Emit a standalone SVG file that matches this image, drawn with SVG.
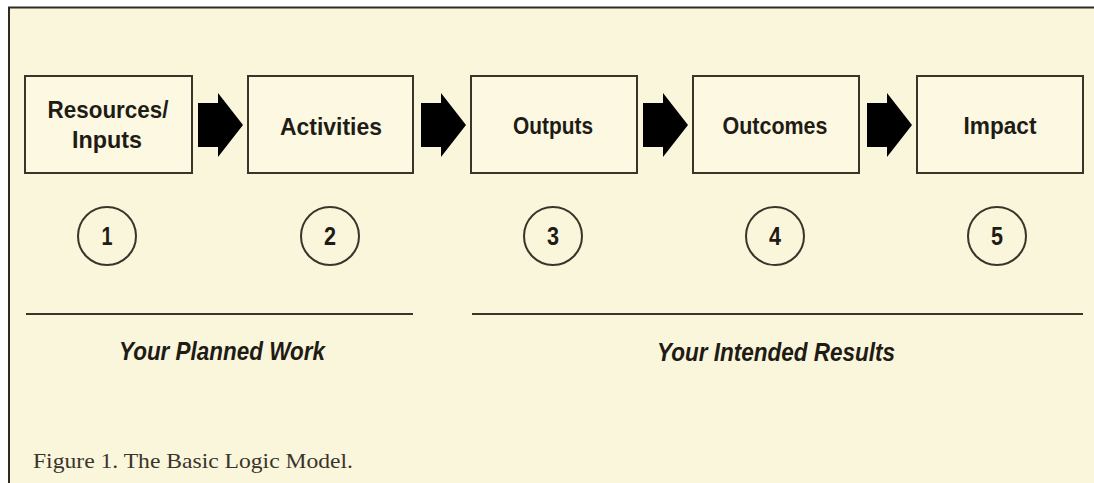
<svg xmlns="http://www.w3.org/2000/svg" width="1094" height="483" viewBox="0 0 1094 483">
  <style>
    .box { fill: #fcf8e2; stroke: #3a342a; stroke-width: 2; }
    .num { fill: none; stroke: #3a342a; stroke-width: 2; }
    .lbl { font-family: "Liberation Sans", Arial, sans-serif; font-weight: bold; font-size: 24px; fill: #1f1b15; text-anchor: middle; }
    .n { font-family: "Liberation Sans", Arial, sans-serif; font-weight: bold; font-size: 25px; fill: #1f1b15; text-anchor: middle; }
    .grp { font-family: "Liberation Sans", Arial, sans-serif; font-weight: bold; font-style: italic; font-size: 25px; fill: #1f1b15; text-anchor: middle; }
    .cap { font-family: "Liberation Serif", "Times New Roman", serif; font-size: 21px; fill: #3a342a; }
    .arrow { fill: #000; }
    .rule { stroke: #3a342a; stroke-width: 2; }
  </style>
  <defs>
    <polygon id="block-arrow" class="arrow" points="0,-22 20,-22 20,-32 45,0 20,32 20,22 0,22"/>
  </defs>

  <!-- page -->
  <rect x="0" y="0" width="1094" height="483" fill="#ffffff"/>
  <rect x="9" y="7" width="1085" height="476" fill="#faf6dc"/>
  <path d="M9,483 V7.5 H1094" fill="none" stroke="#2e2a24" stroke-width="2"/>

  <g id="node-resources">
    <rect class="box" x="25" y="76" width="167" height="97"/>
    <text class="lbl" x="108" y="118" textLength="121" lengthAdjust="spacingAndGlyphs">Resources/</text>
    <text class="lbl" x="107" y="148" textLength="70" lengthAdjust="spacingAndGlyphs">Inputs</text>
  </g>
  <g id="node-activities">
    <rect class="box" x="248" y="76" width="165" height="97"/>
    <text class="lbl" x="331" y="135" textLength="102" lengthAdjust="spacingAndGlyphs">Activities</text>
  </g>
  <g id="node-outputs">
    <rect class="box" x="471" y="76" width="166" height="97"/>
    <text class="lbl" x="553" y="134" textLength="80" lengthAdjust="spacingAndGlyphs">Outputs</text>
  </g>
  <g id="node-outcomes">
    <rect class="box" x="693" y="76" width="166" height="97"/>
    <text class="lbl" x="775" y="134" textLength="105" lengthAdjust="spacingAndGlyphs">Outcomes</text>
  </g>
  <g id="node-impact">
    <rect class="box" x="917" y="76" width="166" height="97"/>
    <text class="lbl" x="1000" y="134" textLength="73" lengthAdjust="spacingAndGlyphs">Impact</text>
  </g>

  <g id="connectors">
    <use href="#block-arrow" x="198" y="125"/>
    <use href="#block-arrow" x="421" y="125"/>
    <use href="#block-arrow" x="643" y="125"/>
    <use href="#block-arrow" x="867" y="125"/>
  </g>

  <g id="step-numbers">
    <circle class="num" cx="107" cy="236" r="29"/>
    <text class="n" x="107" y="245" textLength="11" lengthAdjust="spacingAndGlyphs">1</text>
    <circle class="num" cx="330" cy="236" r="29"/>
    <text class="n" x="330" y="245" textLength="12" lengthAdjust="spacingAndGlyphs">2</text>
    <circle class="num" cx="553" cy="236" r="29"/>
    <text class="n" x="553" y="245" textLength="12" lengthAdjust="spacingAndGlyphs">3</text>
    <circle class="num" cx="775" cy="236" r="29"/>
    <text class="n" x="775" y="245" textLength="12" lengthAdjust="spacingAndGlyphs">4</text>
    <circle class="num" cx="997" cy="236" r="29"/>
    <text class="n" x="997" y="245" textLength="12" lengthAdjust="spacingAndGlyphs">5</text>
  </g>

  <g id="group-planned">
    <line class="rule" x1="26" y1="314" x2="413" y2="314"/>
    <text class="grp" x="222" y="360" textLength="206" lengthAdjust="spacingAndGlyphs">Your Planned Work</text>
  </g>
  <g id="group-results">
    <line class="rule" x1="472" y1="314" x2="1083" y2="314"/>
    <text class="grp" x="776" y="361" textLength="238" lengthAdjust="spacingAndGlyphs">Your Intended Results</text>
  </g>

  <text class="cap" x="33" y="468" textLength="320" lengthAdjust="spacingAndGlyphs">Figure 1. The Basic Logic Model.</text>
</svg>
